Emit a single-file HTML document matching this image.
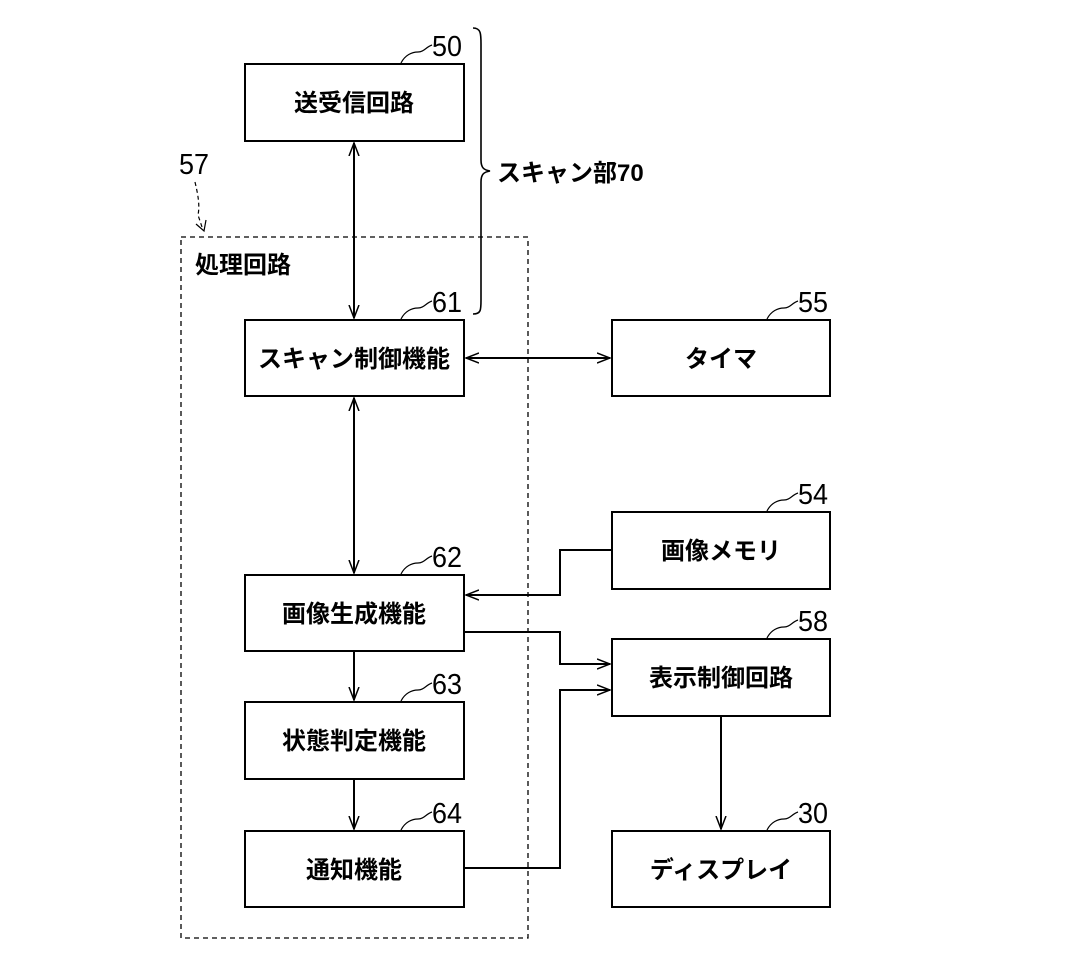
<!DOCTYPE html>
<html><head><meta charset="utf-8"><style>
html,body{margin:0;padding:0;background:#fff;}
svg{display:block;}
text{font-family:"Liberation Sans","Noto Sans CJK JP",sans-serif;fill:#000;}
.b{font-size:24px;text-anchor:middle;font-weight:600;}
.n{font-size:29px;}
</style></head><body>
<svg width="1087" height="961" viewBox="0 0 1087 961" xmlns="http://www.w3.org/2000/svg">
<defs>
<marker id="a" markerWidth="14" markerHeight="12" refX="13" refY="6" orient="auto-start-reverse" markerUnits="userSpaceOnUse">
<path d="M0,1 L13,6 L0,11 M0,6 L13,6" fill="none" stroke="#000" stroke-width="1.5"/>
</marker>
</defs>
<g fill="none" stroke="#000" stroke-width="2">
<rect x="245" y="64" width="219" height="77"/>
<rect x="245" y="320" width="219" height="76"/>
<rect x="612" y="320" width="218" height="76"/>
<rect x="612" y="512" width="218" height="77"/>
<rect x="245" y="575" width="219" height="76"/>
<rect x="612" y="639" width="218" height="77"/>
<rect x="245" y="702" width="219" height="77"/>
<rect x="245" y="831" width="219" height="76"/>
<rect x="612" y="831" width="218" height="76"/>
</g>
<rect x="181" y="237" width="347" height="701" fill="none" stroke="#000" stroke-width="1.3" stroke-dasharray="5,4"/>
<g fill="none" stroke="#000" stroke-width="2">
<line x1="354" y1="143" x2="354" y2="318" marker-start="url(#a)" marker-end="url(#a)"/>
<line x1="354" y1="398" x2="354" y2="573" marker-start="url(#a)" marker-end="url(#a)"/>
<line x1="466" y1="358" x2="610" y2="358" marker-start="url(#a)" marker-end="url(#a)"/>
<polyline points="612,550 560,550 560,595 466,595" marker-end="url(#a)"/>
<polyline points="464,632 560,632 560,664 610,664" marker-end="url(#a)"/>
<polyline points="464,868 560,868 560,690 610,690" marker-end="url(#a)"/>
<line x1="721" y1="716" x2="721" y2="829" marker-end="url(#a)"/>
<line x1="354" y1="651" x2="354" y2="700" marker-end="url(#a)"/>
<line x1="354" y1="779" x2="354" y2="829" marker-end="url(#a)"/>
</g>
<g fill="none" stroke="#000" stroke-width="1.2">
<path d="M401,63 C405,55 412,52 418,52 C424,52 426,47 432,45"/>
<path d="M401,319 C405,311 412,308 418,308 C424,308 426,303 432,301"/>
<path d="M767,319 C771,311 778,308 784,308 C790,308 792,303 798,301"/>
<path d="M767,511 C771,503 778,500 784,500 C790,500 792,495 798,493"/>
<path d="M401,574 C405,566 412,563 418,563 C424,563 426,558 432,556"/>
<path d="M767,638 C771,630 778,627 784,627 C790,627 792,622 798,620"/>
<path d="M401,701 C405,693 412,690 418,690 C424,690 426,685 432,683"/>
<path d="M767,830 C771,822 778,819 784,819 C790,819 792,814 798,812"/>
<path d="M401,830 C405,822 412,819 418,819 C424,819 426,814 432,812"/>
<path d="M473,28 C481,28 481,34 481,44 L481,160 C481,168 484,170 490,171 C484,172 481,174 481,182 L481,300 C481,310 481,314 473,314" stroke-width="1.6"/>
<path d="M195,182 C198,195 200,205 198,215 L203,230" stroke-dasharray="4,3"/>
<path d="M196,224 L204,231 L206,220"/>
</g>
<g class="n">
<text x="432" y="56" textLength="30" lengthAdjust="spacingAndGlyphs">50</text>
<text x="432" y="312" textLength="30" lengthAdjust="spacingAndGlyphs">61</text>
<text x="798" y="312" textLength="30" lengthAdjust="spacingAndGlyphs">55</text>
<text x="798" y="504" textLength="30" lengthAdjust="spacingAndGlyphs">54</text>
<text x="432" y="567" textLength="30" lengthAdjust="spacingAndGlyphs">62</text>
<text x="798" y="631" textLength="30" lengthAdjust="spacingAndGlyphs">58</text>
<text x="432" y="694" textLength="30" lengthAdjust="spacingAndGlyphs">63</text>
<text x="798" y="823" textLength="30" lengthAdjust="spacingAndGlyphs">30</text>
<text x="432" y="823" textLength="30" lengthAdjust="spacingAndGlyphs">64</text>
<text x="179" y="174" textLength="30" lengthAdjust="spacingAndGlyphs">57</text>
</g>
<text x="497" y="181" style="font-size:24px;font-weight:600">スキャン部70</text>
<text x="195" y="273" style="font-size:24px;font-weight:600">処理回路</text>
<g class="b">
<text x="354" y="111">送受信回路</text>
<text x="354" y="367">スキャン制御機能</text>
<text x="721" y="367">タイマ</text>
<text x="721" y="559">画像メモリ</text>
<text x="354" y="622">画像生成機能</text>
<text x="721" y="686">表示制御回路</text>
<text x="354" y="749">状態判定機能</text>
<text x="354" y="878">通知機能</text>
<text x="721" y="878">ディスプレイ</text>
</g>
</svg>
</body></html>
